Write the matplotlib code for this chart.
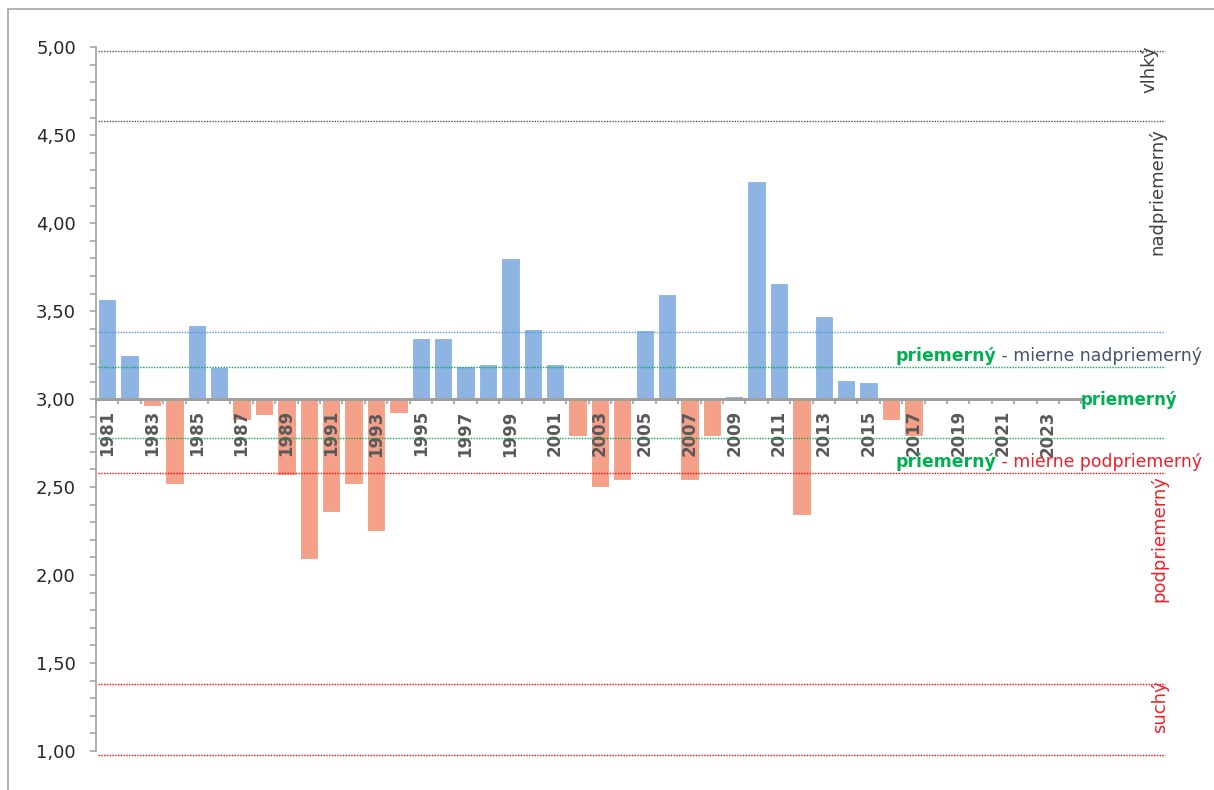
import numpy as np
import matplotlib
matplotlib.use("Agg")
import matplotlib.pyplot as plt
from matplotlib.patches import Rectangle

# -----------------------------
# Data
# -----------------------------
years = list(range(1981, 2025))
values = [
    3.57, 3.25, 2.96, 2.52, 3.42, 3.18, 2.88, 2.91, 2.57, 2.09,
    2.36, 2.52, 2.25, 2.92, 3.35, 3.35, 3.19, 3.20, 3.80, 3.40,
    3.20, 2.79, 2.50, 2.54, 3.39, 3.60, 2.54, 2.79, 3.02, 4.24,
    3.66, 2.34, 3.47, 3.11, 3.10, 2.88, 2.79,
    None, None, None, None, None, None, None,
]
baseline = 3.0

# class boundaries (dotted lines) and their colours
limits = [4.98, 4.58, 3.38, 3.18, 2.78, 2.58, 1.38, 0.98]
limit_colors = ["#44546A", "#44546A", "#5B9BD5", "#00B050",
                "#00B050", "#FF0000", "#FF0000", "#FF0000"]

yticks = [1.0, 1.5, 2.0, 2.5, 3.0, 3.5, 4.0, 4.5, 5.0]

BLUE = "#8DB4E2"
SALMON = "#F5A089"
GREEN = "#00B050"
RED = "#F0202A"
SLATE = "#44546A"
GREY_TXT = "#404040"

# -----------------------------
# Figure
# -----------------------------
fig = plt.figure(figsize=(12.14, 7.90), dpi=100)
ax = fig.add_axes([96 / 1214, 21.4 / 790, 1075 / 1214, 739 / 790])
fig.patches.append(Rectangle((8 / 1214, -0.01), 1.1, 1 - 9 / 790 + 0.01,
                             transform=fig.transFigure, fill=False,
                             edgecolor="#A6A6A6", linewidth=1.2))

x = np.arange(len(years))
for xi, v in zip(x, values):
    if v is None:
        continue
    color = BLUE if v >= baseline else SALMON
    ax.bar(xi, v - baseline, bottom=baseline, width=0.82, color=color,
           edgecolor="white", linewidth=0.8, zorder=1)

for y, c in zip(limits, limit_colors):
    ax.axhline(y, xmin=0.002, xmax=0.994, color=c, linestyle=(0, (1, 1)),
               linewidth=1.0, zorder=3)

ax.set_xlim(-0.5, 47.5)
ax.set_ylim(0.9, 5.1)

# y axis
ax.set_yticks(yticks)
ax.set_yticklabels([f"{t:.2f}".replace(".", ",") for t in yticks],
                   fontsize=13, color="#262626")
ax.set_yticks(np.arange(1.0, 5.01, 0.1), minor=True)
ax.tick_params(axis="y", which="both", direction="out", color="#A6A6A6",
               width=1.2, length=4.5, pad=10)
ax.spines["left"].set_bounds(1.0, 5.0)
ax.spines["left"].set_color("#A6A6A6")
ax.spines["left"].set_linewidth(1.3)

# x axis at the baseline
ax.spines["bottom"].set_position(("data", baseline))
ax.spines["bottom"].set_bounds(-0.5, len(years) - 0.5)
ax.spines["bottom"].set_color("#A0A0A0")
ax.spines["bottom"].set_linewidth(2.2)
ax.spines["bottom"].set_zorder(2)
ax.spines["top"].set_visible(False)
ax.spines["right"].set_visible(False)

ax.set_xticks(x[::2])
ax.set_xticklabels([str(y) for y in years[::2]], rotation=90, fontsize=12,
                   fontweight="bold", color="#595959")
ax.set_xticks(np.arange(-0.5, len(years), 1.0), minor=True)
ax.tick_params(axis="x", which="major", length=0, pad=8)
ax.tick_params(axis="x", which="minor", length=3.6, direction="out",
               color="#A0A0A0", width=1.2)

# -----------------------------
# Class labels on the right
# -----------------------------
ax.text(46.55, 4.875, "vlhký", rotation=90, ha="center", va="center",
        fontsize=13, color=GREY_TXT)
ax.text(46.87, 4.18, "nadpriemerný", rotation=90, ha="center", va="center",
        fontsize=13, color=GREY_TXT)
ax.text(47.0, 2.205, "podpriemerný", rotation=90, ha="center", va="center",
        fontsize=13, color=RED)
ax.text(47.0, 1.25, "suchý", rotation=90, ha="center", va="center",
        fontsize=13, color=RED)

t1 = ax.text(35.2, 3.245, "priemerný", ha="left", va="center", fontsize=12.4,
             fontweight="bold", color=GREEN)
ax.annotate(" - mierne nadpriemerný", xy=(1, 0), xycoords=t1, ha="left",
            va="bottom", fontsize=12.4, color=SLATE)

ax.text(43.45, 2.995, "priemerný", ha="left", va="center", fontsize=12,
        fontweight="bold", color=GREEN)

t2 = ax.text(35.2, 2.642, "priemerný", ha="left", va="center", fontsize=12.4,
             fontweight="bold", color=GREEN)
ax.annotate(" - mierne podpriemerný", xy=(1, 0), xycoords=t2, ha="left",
            va="bottom", fontsize=12.4, color=RED)

fig.savefig("out.png", dpi=100)
